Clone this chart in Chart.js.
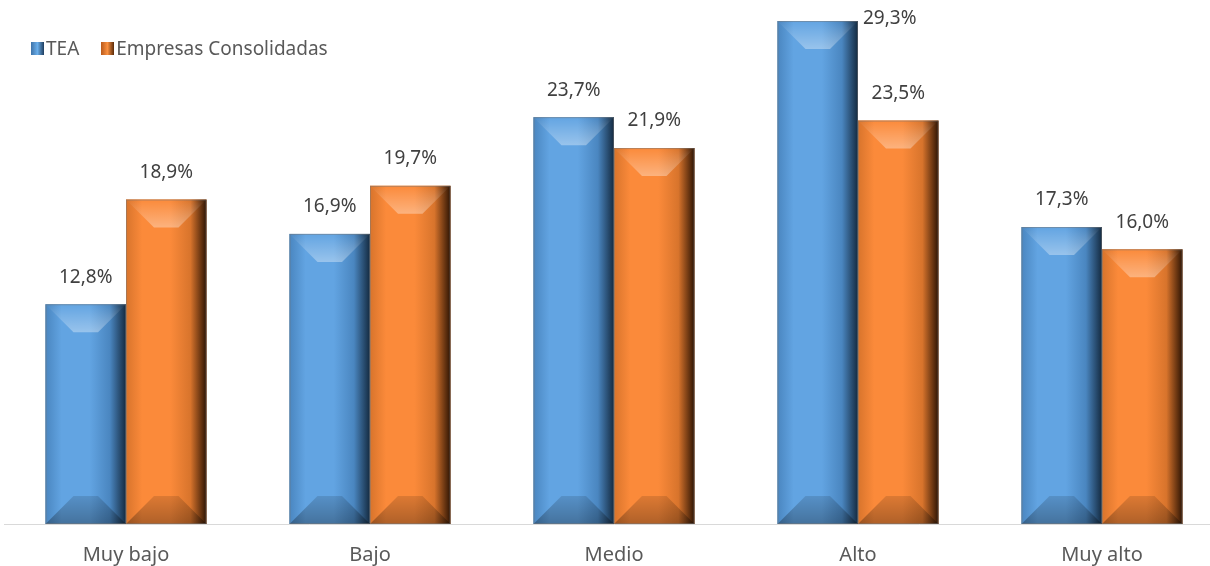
<!DOCTYPE html>
<html>
<head>
<meta charset="utf-8">
<script src="https://cdn.jsdelivr.net/npm/chart.js@4.4.1/dist/chart.umd.min.js"></script>
<style>
  html, body { margin: 0; padding: 0; background: #fff; overflow: hidden; }
  #wrap { position: relative; width: 1230px; height: 566px; overflow: hidden; }
  #legend { position: absolute; left: 31px; top: 35px; font-family: 'Noto Sans', sans-serif; font-size: 19px; color: #595959; display: flex; align-items: center; }
  .sw { display: inline-block; width: 13px; height: 13px; margin-right: 2px; }
  .item { display: flex; align-items: center; margin-right: 22px; }
</style>
</head>
<body>
<div id="wrap">
  <canvas id="chart" width="1230" height="586"></canvas>
  <div id="legend">
    <span class="item"><span class="sw" style="background:linear-gradient(90deg,#3f73a8,#6aaeea 50%,#1f3d5e)"></span>TEA</span>
    <span class="item"><span class="sw" style="background:linear-gradient(90deg,#b85a1c,#fa9040 50%,#5a2a08)"></span>Empresas Consolidadas</span>
  </div>
</div>
<script>
const categories = ['Muy bajo', 'Bajo', 'Medio', 'Alto', 'Muy alto'];
const teaValues = [12.8, 16.9, 23.7, 29.3, 17.3];
const empresasValues = [18.9, 19.7, 21.9, 23.5, 16.0];
const seriesNames = ['TEA', 'Empresas Consolidadas'];

const palettes = [
  { base: '#5b9bd5', light: '#9ad2ff', mid: '#62a4e2', dark: '#142a40', edge: '#4a86c0' },
  { base: '#f5883a', light: '#ffb978', mid: '#fb8a3a', dark: '#2e1403', edge: '#d8742c' }
];

const bevelPlugin = {
  id: 'bevel',
  afterDatasetsDraw(chart) {
    const ctx = chart.ctx;
    chart.data.datasets.forEach((ds, di) => {
      const pal = palettes[di];
      chart.getDatasetMeta(di).data.forEach(bar => {
        const { x, y, base, width } = bar.getProps(['x', 'y', 'base', 'width'], true);
        const l = x - width / 2, r = x + width / 2, t = y, b = base;
        const bv = 28;
        ctx.save();
        const g = ctx.createLinearGradient(l, 0, r, 0);
        g.addColorStop(0, pal.edge);
        g.addColorStop(0.2, pal.mid);
        g.addColorStop(0.55, pal.mid);
        g.addColorStop(0.8, pal.edge);
        g.addColorStop(1, pal.dark);
        ctx.fillStyle = g;
        ctx.fillRect(l, t, width, b - t);
        // top bevel
        const tg = ctx.createLinearGradient(0, t, 0, t + bv);
        tg.addColorStop(0, 'rgba(255,255,255,0)');
        tg.addColorStop(1, 'rgba(255,255,255,0.35)');
        ctx.fillStyle = tg;
        ctx.beginPath();
        ctx.moveTo(l, t); ctx.lineTo(r, t); ctx.lineTo(r - bv, t + bv); ctx.lineTo(l + bv, t + bv);
        ctx.closePath(); ctx.fill();
        // bottom bevel
        const bg = ctx.createLinearGradient(0, b - bv, 0, b);
        bg.addColorStop(0, 'rgba(0,0,0,0.12)');
        bg.addColorStop(1, 'rgba(0,0,0,0.3)');
        ctx.fillStyle = bg;
        ctx.beginPath();
        ctx.moveTo(l, b); ctx.lineTo(r, b); ctx.lineTo(r - bv, b - bv); ctx.lineTo(l + bv, b - bv);
        ctx.closePath(); ctx.fill();
        ctx.strokeStyle = 'rgba(120,120,120,0.5)';
        ctx.lineWidth = 1;
        ctx.strokeRect(l + 0.5, t + 0.5, width - 1, b - t - 1);
        ctx.restore();
      });
    });
    // data labels
    ctx.save();
    ctx.font = '19px "Noto Sans", sans-serif';
    ctx.fillStyle = '#404040';
    ctx.textBaseline = 'middle';
    chart.data.datasets.forEach((ds, di) => {
      chart.getDatasetMeta(di).data.forEach((bar, i) => {
        const { x, y, width } = bar.getProps(['x', 'y', 'width'], true);
        const txt = ds.data[i].toFixed(1).replace('.', ',') + '%';
        if (y - 30 < chart.chartArea.top - 5) {
          ctx.textAlign = 'left';
          ctx.fillText(txt, x + width / 2 + 5, y - 2);
        } else {
          ctx.textAlign = 'center';
          ctx.fillText(txt, x, y - 27);
        }
      });
    });
    ctx.restore();
  }
};

new Chart(document.getElementById('chart'), {
  type: 'bar',
  data: {
    labels: categories,
    datasets: [
      { label: seriesNames[0], data: teaValues, backgroundColor: palettes[0].base },
      { label: seriesNames[1], data: empresasValues, backgroundColor: palettes[1].base }
    ]
  },
  options: {
    responsive: false,
    animation: false,
    layout: { padding: { left: 4, right: 6, top: 9, bottom: 0 } },
    datasets: { bar: { categoryPercentage: 0.66, barPercentage: 1 } },
    scales: {
      y: { min: 0, max: 30, display: false },
      x: {
        grid: { display: false, drawTicks: false },
        border: { color: '#d9d9d9', width: 1 },
        ticks: { color: '#595959', font: { family: 'Noto Sans', size: 20 }, padding: 19 }
      }
    },
    plugins: { legend: { display: false }, tooltip: { enabled: false } }
  },
  plugins: [bevelPlugin]
});
</script>
</body>
</html>
